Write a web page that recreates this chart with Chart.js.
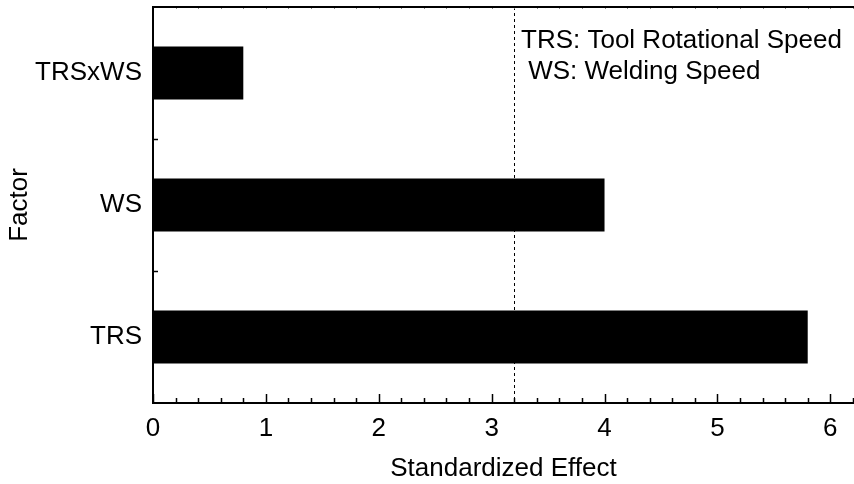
<!DOCTYPE html>
<html>
<head>
<meta charset="utf-8">
<script src="https://cdn.jsdelivr.net/npm/chart.js@4"></script>
<style>
  html, body { margin: 0; padding: 0; background: #fff; }
  #wrap { width: 854px; height: 484px; }
</style>
</head>
<body>
<div id="wrap"><canvas id="grafico" width="854" height="484"></canvas></div>
<script>
// datos
const factores = ['TRSxWS', 'WS', 'TRS'];
const efectos = [0.8, 4.0, 5.8];
const limiteCritico = 3.2;
const ejeX = { min: 0, max: 6.21, paso: 1, pasoMenor: 0.2 };
const notas = ['TRS: Tool Rotational Speed', ' WS: Welding Speed'];

const fuente = '"Liberation Sans", Arial, sans-serif';

// ejes, marcas y linea punteada dibujados a mano
const ejesPlugin = {
  id: 'ejes',
  afterDatasetsDraw(chart) {
    const ctx = chart.ctx;
    const a = chart.chartArea;
    const x = chart.scales.x;
    const y = chart.scales.y;
    ctx.save();
    ctx.strokeStyle = '#000';

    // linea punteada en el valor critico
    const xc = Math.round(x.getPixelForValue(limiteCritico)) + 0.5;
    ctx.lineWidth = 1;
    ctx.setLineDash([3, 3]);
    ctx.beginPath();
    ctx.moveTo(xc, a.top);
    ctx.lineTo(xc, a.bottom);
    ctx.stroke();
    ctx.setLineDash([]);

    // marcas del eje x
    ctx.lineWidth = 1.5;
    for (let v = ejeX.min; v <= ejeX.max + 1e-9; v += ejeX.pasoMenor) {
      const val = Math.round(v * 10) / 10;
      const px = Math.round(x.getPixelForValue(val)) + 0.5;
      const mayor = Math.abs(val - Math.round(val)) < 1e-6;
      ctx.beginPath();
      ctx.moveTo(px, a.bottom);
      ctx.lineTo(px, a.bottom - (mayor ? 9 : 5));
      ctx.stroke();
      // marcas tenues arriba
      ctx.save();
      ctx.strokeStyle = '#888';
      ctx.lineWidth = 1;
      ctx.beginPath();
      ctx.moveTo(px, a.top);
      ctx.lineTo(px, a.top + 2);
      ctx.stroke();
      ctx.restore();
    }

    // marcas del eje y entre categorias
    for (let i = 0; i < factores.length - 1; i++) {
      const py = Math.round((y.getPixelForValue(i) + y.getPixelForValue(i + 1)) / 2) + 0.5;
      ctx.beginPath();
      ctx.moveTo(a.left, py);
      ctx.lineTo(a.left + 5, py);
      ctx.stroke();
    }

    // marco: izquierda, abajo, arriba
    ctx.lineWidth = 2;
    ctx.beginPath();
    ctx.moveTo(a.right, a.top);
    ctx.lineTo(a.left, a.top);
    ctx.lineTo(a.left, a.bottom);
    ctx.lineTo(a.right, a.bottom);
    ctx.stroke();

    // notas
    ctx.fillStyle = '#000';
    ctx.font = '26px ' + fuente;
    ctx.textAlign = 'left';
    ctx.textBaseline = 'middle';
    ctx.fillText(notas[0], 521, 41);
    ctx.fillText(notas[1], 521, 72);
    ctx.restore();
  }
};

new Chart(document.getElementById('grafico'), {
  type: 'bar',
  data: {
    labels: factores,
    datasets: [{
      data: efectos,
      backgroundColor: '#000',
      borderWidth: 0,
      barPercentage: 0.4,
      categoryPercentage: 1.0
    }]
  },
  options: {
    indexAxis: 'y',
    responsive: false,
    animation: false,
    layout: { padding: { top: 7, right: 0, left: 0, bottom: 0 } },
    plugins: { legend: { display: false }, tooltip: { enabled: false } },
    scales: {
      x: {
        min: ejeX.min,
        max: ejeX.max,
        grid: { display: false, drawTicks: false },
        border: { display: false },
        ticks: {
          stepSize: ejeX.paso,
          includeBounds: false,
          color: '#000',
          padding: 10,
          maxRotation: 0,
          font: { family: fuente, size: 26 }
        },
        afterBuildTicks(scale) {
          scale.ticks = scale.ticks.filter(t => Math.abs(t.value - Math.round(t.value)) < 1e-6);
        },
        title: {
          display: true,
          text: 'Standardized Effect',
          color: '#000',
          padding: { top: 8, bottom: 0 },
          font: { family: fuente, size: 26 }
        },
        afterFit(scale) {
          scale.height = 81;
          scale.paddingLeft = 0;
          scale.paddingRight = 0;
        }
      },
      y: {
        grid: { display: false, drawTicks: false },
        border: { display: false },
        ticks: {
          color: '#000',
          padding: 11,
          font: { family: fuente, size: 26 }
        },
        title: {
          display: true,
          text: 'Factor',
          color: '#000',
          padding: { top: 4, bottom: 0 },
          font: { family: fuente, size: 26 }
        },
        afterFit(scale) {
          scale.width = 153;
          scale.paddingTop = 0;
          scale.paddingBottom = 0;
        }
      }
    }
  },
  plugins: [ejesPlugin]
});
</script>
</body>
</html>
